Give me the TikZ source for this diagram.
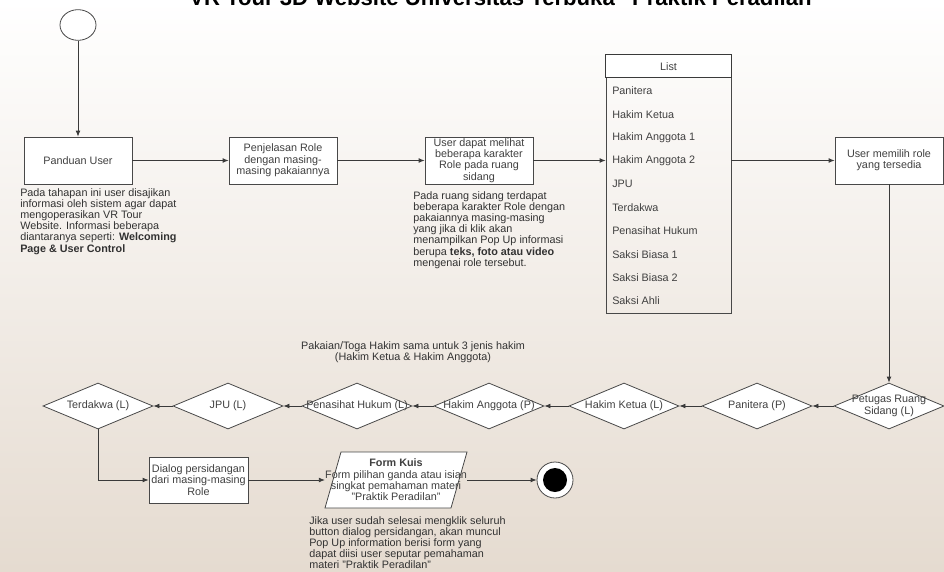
\documentclass[tikz,border=0pt]{standalone}
\usepackage{fontspec}
\setmainfont{Liberation Sans}
\usetikzlibrary{shapes.geometric,arrows.meta}

\definecolor{edgegray}{RGB}{58,58,58}
\definecolor{boxgray}{RGB}{72,72,72}
\definecolor{textgray}{RGB}{64,64,64}
\definecolor{notegray}{RGB}{50,50,50}
\definecolor{bgtop}{RGB}{255,255,255}
\definecolor{bgmid}{RGB}{246,238,234}
\definecolor{bgbottom}{RGB}{229,219,208}

\newcommand{\bxfont}{\fontsize{8.1}{8.5}\selectfont}
\newcommand{\ntfont}{\fontsize{8.1}{8.4}\selectfont}
\newcommand{\ttlfont}{\fontsize{16.6}{18}\selectfont\bfseries}

\begin{document}
\begin{tikzpicture}[x=0.75pt,y=0.75pt,yscale=-1,xscale=1,
  line/.style={draw=edgegray,line width=0.6pt},
  flow/.style={line,-{Latex[length=4.5pt,width=3.6pt]}},
  box/.style={draw=boxgray,line width=0.6pt,fill=white,minimum width=81pt,minimum height=35.25pt,inner sep=1pt,align=center,font=\bxfont,text=textgray},
  choice/.style={diamond,draw=boxgray,line width=0.6pt,fill=white,minimum width=82.5pt,minimum height=34.5pt,inner sep=0pt},
  choicetext/.style={font=\bxfont,text=textgray,align=center,inner sep=0pt},
  note/.style={anchor=north west,inner sep=0pt,align=left,font=\ntfont,text=notegray},
  listitem/.style={anchor=west,inner sep=0pt,font=\bxfont,text=textgray}
]
%set diagram frame to 944 x 571
\useasboundingbox (0,0) rectangle (944,571);
\shade[top color=bgtop,middle color=bgmid,bottom color=bgbottom] (0,0) rectangle (944,571);

% Title (cut at the top)
\node [anchor=base,inner sep=0pt,font=\ttlfont] (title) at (506,6) {VR Tour 3D Website Universitas Terbuka "Praktik Peradilan"};

%Shape: Start
\node [ellipse,draw=boxgray,line width=0.6pt,fill=white,minimum width=27pt,minimum height=23pt,inner sep=0pt] (start) at (78,25) {};

%Shape: Process boxes
\node [box] (panduan) at (78,160.5) {Panduan User};
\node [box] (penjelasan) at (283,160.5) {Penjelasan Role\\dengan masing-\\masing pakaiannya};
\node [box] (melihat) at (479,160.5) {User dapat melihat\\beberapa karakter\\Role pada ruang\\sidang};
\node [box] (memilih) at (889,160.5) {User memilih role\\yang tersedia};

%Shape: List
\node [draw=boxgray,line width=0.6pt,minimum width=93.75pt,minimum height=193.5pt,inner sep=0pt] (list) at (668.5,184) {};
\draw [line,fill=white] (list.north west) rectangle ([yshift=17.25pt]list.north east);
\node [font=\bxfont,text=textgray,inner sep=0pt] (listhead) at (668.5,67) {List};
\foreach \role [count=\i] in {Panitera,Hakim Ketua,Hakim Anggota 1,Hakim Anggota 2,JPU,Terdakwa,Penasihat Hukum,Saksi Biasa 1,Saksi Biasa 2,Saksi Ahli}
  \node [listitem] (role\i) at (612,{91+23.33*(\i-1)}) {\role};

%Shape: Decisions
\node [choice,label={[choicetext]center:Petugas Ruang\\Sidang (L)}] (petugas) at (889,406) {};
\node [choice,label={[choicetext]center:Panitera (P)}] (panitera) at (757,406) {};
\node [choice,label={[choicetext]center:Hakim Ketua (L)}] (ketua) at (624,406) {};
\node [choice,label={[choicetext]center:Hakim Anggota (P)}] (anggota) at (489,406) {};
\node [choice,label={[choicetext]center:Penasihat Hukum (L)}] (penasihat) at (357,406) {};
\node [choice,label={[choicetext]center:JPU (L)}] (jpu) at (228,406) {};
\node [choice,label={[choicetext]center:Terdakwa (L)}] (terdakwa) at (98,406) {};

%Shape: Dialog, Form Kuis and end
\node [box,minimum width=74.25pt,minimum height=34.5pt] (dialog) at (198.5,480) {Dialog persidangan\\dari masing-masing\\Role};
\draw [draw=boxgray,line width=0.6pt,fill=white] (325,508) -- (341,452) -- (467,452) -- (451,508) -- cycle;
\node [minimum width=94.5pt,minimum height=42pt,inner sep=0pt,font=\bxfont,text=textgray,align=center] (formkuis) at (396,480) {\textbf{Form Kuis}\\Form pilihan ganda atau isian\\singkat pemahaman materi\\"Praktik Peradilan"};
\node [circle,draw=boxgray,line width=0.6pt,fill=white,minimum size=27pt,inner sep=0pt] (finish) at (555,480) {};
\node [circle,fill=black,minimum size=18pt,inner sep=0pt] (finishdot) at (finish) {};

%Connectors
\draw [flow] (start) -- (panduan);
\draw [flow] (panduan) -- (penjelasan);
\draw [flow] (penjelasan) -- (melihat);
\draw [flow] (melihat) -- (melihat -| list.west);
\draw [flow] (list.east |- memilih) -- (memilih);
\draw [flow] (memilih) -- (petugas);
\draw [flow] (petugas) -- (panitera);
\draw [flow] (panitera) -- (ketua);
\draw [flow] (ketua) -- (anggota);
\draw [flow] (anggota) -- (penasihat);
\draw [flow] (penasihat) -- (jpu);
\draw [flow] (jpu) -- (terdakwa);
\draw [flow] (terdakwa.south) |- (dialog.west);
\draw [flow] (dialog) -- (formkuis);
\draw [flow] (formkuis) -- (finish);

% Text Node
\node [note] (notepanduan) at (20,188) {Pada tahapan ini user disajikan\\informasi oleh sistem agar dapat\\mengoperasikan VR Tour\\Website. Informasi beberapa\\diantaranya seperti: \textbf{Welcoming}\\\textbf{Page \& User Control}};
% Text Node
\node [note] (notemelihat) at (413,191) {Pada ruang sidang terdapat\\beberapa karakter Role dengan\\pakaiannya masing-masing\\yang jika di klik akan\\menampilkan Pop Up informasi\\berupa \textbf{teks, foto atau video}\\mengenai role tersebut.};
% Text Node
\node [inner sep=0pt,align=center,font=\ntfont,text=notegray] (notehakim) at (413,352.5) {Pakaian/Toga Hakim sama untuk 3 jenis hakim\\(Hakim Ketua \& Hakim Anggota)};
% Text Node
\node [note] (notekuis) at (309,516) {Jika user sudah selesai mengklik seluruh\\button dialog persidangan, akan muncul\\Pop Up information berisi form yang\\dapat diisi user seputar pemahaman\\materi "Praktik Peradilan"};

\end{tikzpicture}
\end{document}
